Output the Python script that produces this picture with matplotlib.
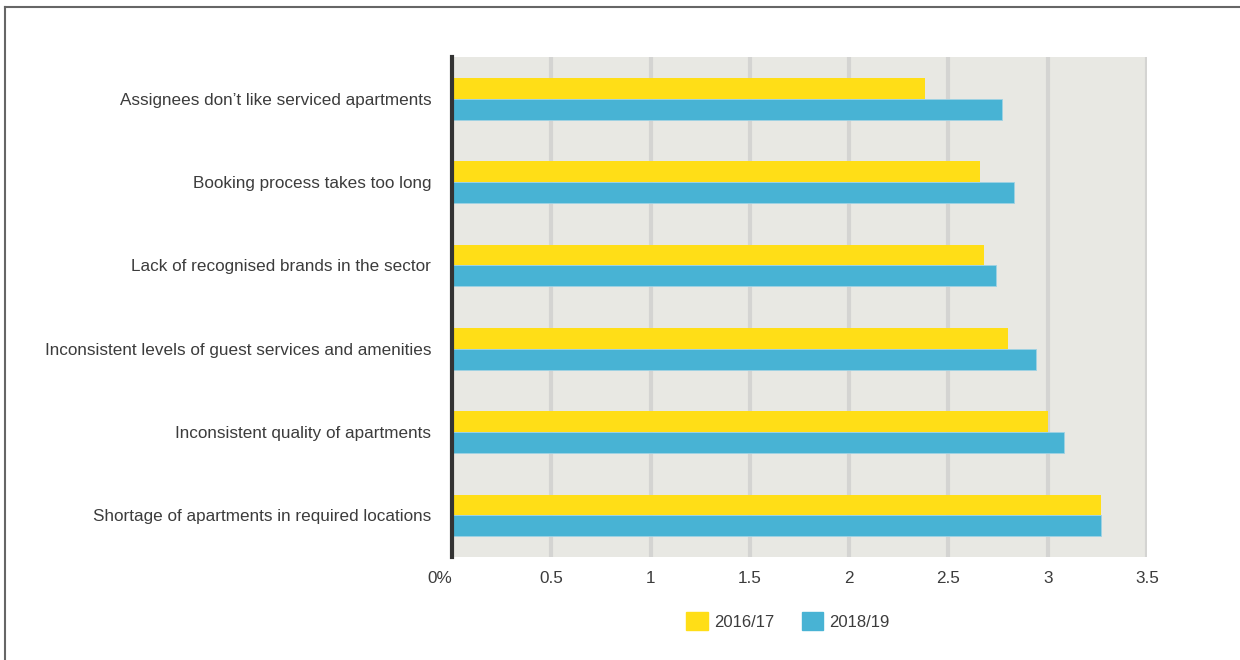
import matplotlib.pyplot as plt
import numpy as np
from matplotlib.patches import Patch
from matplotlib.lines import Line2D

# barriers to booking serviced apartments, average score
categories = [
    'Assignees don\u2019t like serviced apartments',
    'Booking process takes too long',
    'Lack of recognised brands in the sector',
    'Inconsistent levels of guest services and amenities',
    'Inconsistent quality of apartments',
    'Shortage of apartments in required locations',
]
score_2016 = [2.38, 2.66, 2.68, 2.80, 3.00, 3.27]
score_2018 = [2.77, 2.83, 2.74, 2.94, 3.08, 3.27]
xticks = [0, 0.5, 1, 1.5, 2, 2.5, 3, 3.5]
xtick_labels = ['0%', '0.5', '1', '1.5', '2', '2.5', '3', '3.5']
series_names = ['2016/17', '2018/19']

yellow = '#ffde17'
blue = '#48b3d4'
text_col = '#3c3c3c'
fs = 12.3

plt.rcParams['font.family'] = ['Liberation Sans', 'DejaVu Sans']

fig = plt.figure(figsize=(12.4, 6.6), dpi=100)
ax = fig.add_axes([0.3645, 0.156, 0.5605, 0.7576])
ax.set_facecolor('#e8e8e3')

pos = np.arange(len(categories))
h = 0.25
ax.barh(pos - h / 2, score_2016, height=h, color=yellow, zorder=3)
ax.barh(pos + h / 2, score_2018, height=h, color=blue, edgecolor='#9fd2e4',
        linewidth=0.6, zorder=3)

ax.set_ylim(len(categories) - 0.5, -0.5)
ax.set_xlim(0, 3.5)
ax.set_yticks(pos)
ax.set_yticklabels(categories, fontsize=fs, color=text_col)
ax.set_xticks(xticks)
ax.set_xticklabels(xtick_labels, fontsize=fs, color=text_col)
ax.tick_params(axis='y', length=0, pad=15)
ax.tick_params(axis='x', length=0, pad=10)
labels = ax.get_xticklabels()
labels[0].set_horizontalalignment('right')

for v in xticks[1:]:
    ax.axvline(v, color='#d4d4d2', linewidth=3, zorder=1)

for s in ['top', 'right', 'bottom']:
    ax.spines[s].set_visible(False)
ax.spines['left'].set_color('#333333')
ax.spines['left'].set_linewidth(3)
ax.spines['left'].set_zorder(4)

handles = [Patch(color=yellow), Patch(color=blue)]
fig.legend(handles, series_names, loc='center', bbox_to_anchor=(0.6355, 0.059),
           ncol=2, frameon=False, fontsize=12, labelcolor=text_col,
           handlelength=1.3, handleheight=1.3, handletextpad=0.35,
           columnspacing=1.65)

# frame along the top and left edges
fig.add_artist(Line2D([5 / 1240, 1], [1 - 7 / 660, 1 - 7 / 660], color='#666666',
                      linewidth=1.5, transform=fig.transFigure))
fig.add_artist(Line2D([5 / 1240, 5 / 1240], [0, 1 - 7 / 660], color='#666666',
                      linewidth=1.5, transform=fig.transFigure))

fig.savefig('out.png', dpi=100, facecolor='white')
